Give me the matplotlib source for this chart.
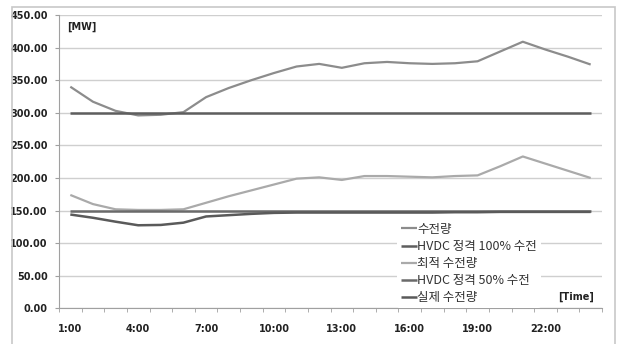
import matplotlib
matplotlib.use("Agg")
import matplotlib.pyplot as plt
from matplotlib.patches import Rectangle
import numpy as np

plt.rcParams['font.family'] = ['Noto Sans CJK KR', 'DejaVu Sans']

# hourly values, 1:00 .. 24:00
hours = ["%d:00" % h for h in range(1, 25)]
supply = [340, 317, 303, 296, 297, 301, 324, 338, 350, 361, 371, 375,
          369, 376, 378, 376, 375, 376, 379, 394, 409, 397, 386, 374]
hvdc_100 = [300] * 24
optimal = [174, 160, 152, 151, 151, 152, 162, 172, 181, 190, 199, 201,
           197, 203, 203, 202, 201, 203, 204, 218, 233, 222, 211, 200]
hvdc_50 = [150] * 24
actual = [144, 139, 133, 127.5, 128, 131.5, 141, 143, 145, 146.5, 147, 147,
          147, 147, 147, 147, 147, 147.5, 147.5, 148, 148, 148, 148, 148]

series = [
    ("수전량", supply, "#8c8c8c", 1.6),
    ("HVDC 정격 100% 수전", hvdc_100, "#5e5e5e", 1.8),
    ("최적 수전량", optimal, "#aaaaaa", 1.6),
    ("HVDC 정격 50% 수전", hvdc_50, "#6a6a6a", 1.8),
    ("실제 수전량", actual, "#5a5a5a", 1.8),
]

fig = plt.figure(figsize=(6.17, 3.44), dpi=100)
ax = fig.add_axes([59 / 617, 1 - 308.4 / 344, 543 / 617, 293.4 / 344])

x = np.arange(len(hours))
for name, vals, col, lw in series:
    ax.plot(x, vals, color=col, lw=lw, label=name, solid_capstyle="butt")

ax.set_xlim(-0.5, 23.5)
ax.set_ylim(0, 450)
ax.set_yticks(np.arange(0, 451, 50))
ax.set_yticklabels(["%.2f" % v for v in np.arange(0, 451, 50)])
ax.set_xticks(x[::3])
ax.set_xticklabels(hours[::3])
ax.set_xticks(np.arange(-0.5, 24, 1), minor=True)

ax.grid(axis="y", color="#cfcfcf", lw=1)
ax.set_axisbelow(True)
for s in ["top", "right"]:
    ax.spines[s].set_visible(False)
ax.spines["left"].set_color("#a0a0a0")
ax.spines["bottom"].set_color("#a0a0a0")

ax.tick_params(axis="y", length=3, color="#a0a0a0", pad=5,
               labelsize=7, labelcolor="#222222")
ax.tick_params(axis="x", which="major", length=0, pad=11,
               labelsize=7, labelcolor="#222222")
ax.tick_params(axis="x", which="minor", length=3, color="#a0a0a0")
for lab in ax.get_xticklabels() + ax.get_yticklabels():
    lab.set_fontweight("bold")
    lab.set_family("DejaVu Sans")

ax.text(8 / 543, 1 - 12 / 293.4, "[MW]", transform=ax.transAxes,
        fontsize=7, fontweight="bold", family="DejaVu Sans",
        color="#222222", va="center", ha="left")
ax.text(1 - 8 / 543, 12 / 293.4, "[Time]", transform=ax.transAxes,
        fontsize=7, fontweight="bold", family="DejaVu Sans",
        color="#222222", va="center", ha="right")

leg = ax.legend(loc="upper left", bbox_to_anchor=(338 / 543, 1 - 204 / 293.4),
                fontsize=9, frameon=True, handlelength=1.3,
                handletextpad=0.0, labelspacing=0.33, borderpad=0.3,
                borderaxespad=0)
leg.get_frame().set_facecolor("white")
leg.get_frame().set_edgecolor("none")
leg.get_frame().set_alpha(1)
for t in leg.get_texts():
    t.set_color("#333333")

# chart area border
fig.patches.append(Rectangle((12 / 617, -0.01), 603 / 617, 1 - 7 / 344 + 0.01,
                             transform=fig.transFigure, fill=False,
                             edgecolor="#c8c8c8", lw=1.2))

fig.savefig("out.png", dpi=100)
